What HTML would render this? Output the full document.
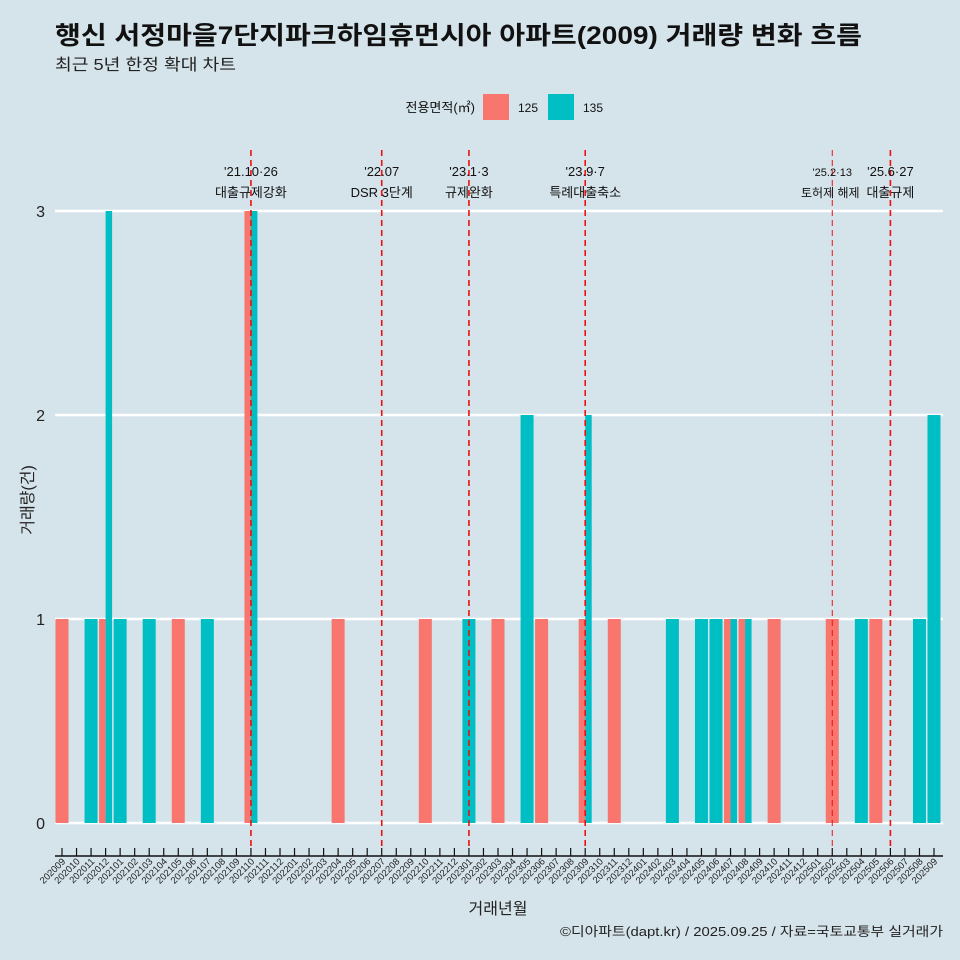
<!DOCTYPE html>
<html><head><meta charset="utf-8"><style>
body{margin:0;background:#d5e3ea;}
svg{display:block;font-family:"Liberation Sans","Noto Sans CJK KR",sans-serif;}
</style></head><body>
<svg id="c" width="960" height="960" xmlns="http://www.w3.org/2000/svg">
<rect width="960" height="960" fill="#d5e3ea"/>
<text x="55" y="44" font-size="25" font-weight="bold" fill="#111" textLength="807" lengthAdjust="spacingAndGlyphs">행신 서정마을7단지파크하임휴먼시아 아파트(2009) 거래량 변화 흐름</text>
<text x="55" y="70" font-size="16" fill="#222" textLength="181" lengthAdjust="spacingAndGlyphs">최근 5년 한정 확대 차트</text>
<g>
<text x="475" y="112" font-size="13" text-anchor="end" fill="#111">전용면적(㎡)</text>
<rect x="483" y="94" width="26" height="26" fill="#f8766d"/>
<text x="518" y="112" font-size="12" fill="#111">125</text>
<rect x="548" y="94" width="26" height="26" fill="#00bfc4"/>
<text x="583" y="112" font-size="12" fill="#111">135</text>
</g>
<g id="grid"></g><g id="bars"></g><g id="ev"></g><g id="axes"></g>
<text transform="translate(33,500) rotate(-90)" font-size="16" text-anchor="middle" fill="#222">거래량(건)</text>
<text x="498" y="914" font-size="16" text-anchor="middle" fill="#222">거래년월</text>
<text x="560" y="936" font-size="13" fill="#222" textLength="383" lengthAdjust="spacingAndGlyphs">©디아파트(dapt.kr) / 2025.09.25 / 자료=국토교통부 실거래가</text>
</svg>
<script>
const months=[];for(let y=2020,m=9;!(y===2025&&m===10);){months.push(y+String(m).padStart(2,'0'));m++;if(m>12){m=1;y++;}}
const s125Months=['202009','202012','202105','202110','202204','202210','202303','202306','202309','202311','202407','202408','202410','202502','202505'];
const s125Values=[1,1,1,3,1,1,1,1,1,1,1,1,1,1,1];
const s135Months=['202011','202012','202101','202103','202107','202110','202301','202305','202309','202403','202405','202406','202407','202408','202504','202508','202509'];
const s135Values=[1,3,1,1,1,3,1,2,2,1,1,1,1,1,1,1,2];
const yTicks=[0,1,2,3];
const evMonths=['202110','202207','202301','202309','202502','202506'];
const evDates=["'21.10·26","'22.07","'23.1·3","'23.9·7","'25.2·13","'25.6·27"];
const evTexts=['대출규제강화','DSR 3단계','규제완화','특례대출축소','토허제 해제','대출규제'];
const NS='http://www.w3.org/2000/svg';
const x0=62,x1=934,yZero=823,yUnit=204,bw=13;
const xs=i=>x0+i*(x1-x0)/(months.length-1);
const ys=v=>yZero-v*yUnit;
function mk(t,a,p){const e=document.createElementNS(NS,t);for(const k in a)e.setAttribute(k,a[k]);p.appendChild(e);return e;}
const grid=document.getElementById('grid');
yTicks.forEach(t=>{
 const l=mk('line',{x1:55,x2:943,y1:ys(t),y2:ys(t),stroke:'#fff','stroke-width':2.5},grid);
 
 
 const tx=mk('text',{x:45,y:ys(t)+6,'font-size':16,'text-anchor':'end',fill:'#222'},grid);tx.textContent=t;
 
 
});
const bars=document.getElementById('bars');
function drawBar(m,v,col,series){
 const i=months.indexOf(m);const both=s125Months.includes(m)&&s135Months.includes(m);
 let x=xs(i)-bw/2,w=bw;
 if(both){w=bw/2;if(series==='135')x+=w;}
 const r=mk('rect',{x:x,y:ys(v),width:w,height:yZero-ys(v),fill:col},bars);
 
 
}
s125Months.forEach((m,k)=>drawBar(m,s125Values[k],'#f8766d','125'));
s135Months.forEach((m,k)=>drawBar(m,s135Values[k],'#00bfc4','135'));
const ev=document.getElementById('ev');
evMonths.forEach((m,k)=>{
 const x=xs(months.indexOf(m));const small=m==='202502';
 const l=mk('line',{x1:x,x2:x,y1:150,y2:850,stroke:'#ee1111','stroke-width':small?1:1.6,'stroke-dasharray':'6,4'},ev);
 
 
 const d=mk('text',{x:x,y:176,'font-size':small?11:13,'text-anchor':'middle',fill:'#111'},ev);d.textContent=evDates[k];
 
 
 const t=mk('text',{x:small?x-2:x,y:197,'font-size':small?12:13,'text-anchor':'middle',fill:'#111'},ev);t.textContent=evTexts[k];
 
 
});
const ax=document.getElementById('axes');
const al=mk('line',{x1:55,x2:943,y1:856,y2:856,stroke:'#111','stroke-width':1.5},ax);


months.forEach((m,i)=>{
 const x=xs(i);
 const t=mk('line',{x1:x,x2:x,y1:848,y2:856,stroke:'#111','stroke-width':1.2},ax);
 
 
 const lb=mk('text',{transform:`translate(${x+4},862) rotate(-45)`,'font-size':9.5,'text-anchor':'end',fill:'#222'},ax);lb.textContent=m;
 
 
});
</script>
</body></html>
